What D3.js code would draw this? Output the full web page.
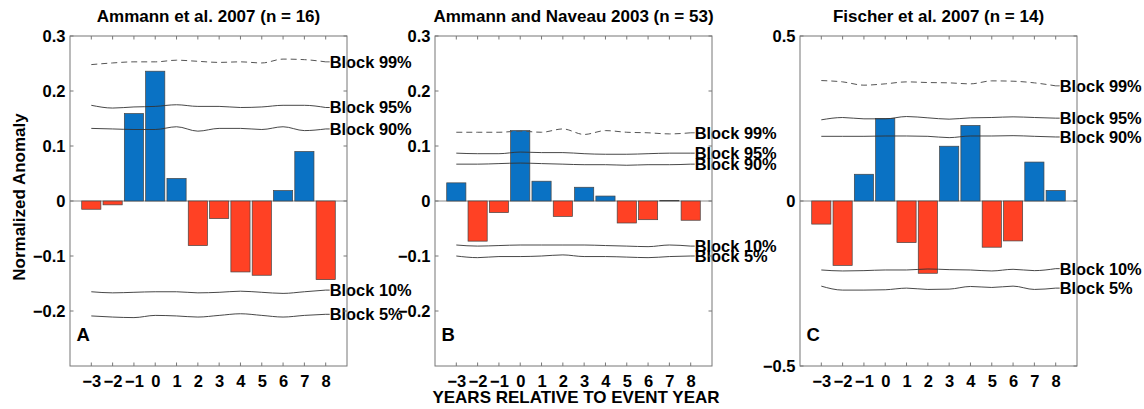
<!DOCTYPE html>
<html><head><meta charset="utf-8">
<script src="https://cdn.jsdelivr.net/npm/d3@7"></script>
<style>
html,body{margin:0;padding:0;background:#fff;}
svg{display:block;font-family:"Liberation Sans",Arial,Helvetica,sans-serif;font-weight:bold;}
</style></head>
<body><svg id="c" width="1144" height="409"></svg>
<script>
const years = [-3,-2,-1,0,1,2,3,4,5,6,7,8];

const titleA = "Ammann et al. 2007 (n = 16)";
const titleB = "Ammann and Naveau 2003 (n = 53)";
const titleC = "Fischer et al. 2007 (n = 14)";

const valuesA = [-0.015,-0.007,0.159,0.236,0.041,-0.081,-0.032,-0.129,-0.135,0.019,0.090,-0.143];
const valuesB = [0.033,-0.073,-0.021,0.128,0.036,-0.028,0.025,0.009,-0.040,-0.034,0.001,-0.035];
const valuesC = [-0.070,-0.195,0.081,0.250,-0.126,-0.219,0.166,0.229,-0.140,-0.121,0.118,0.032];

const a99 = [0.248,0.251,0.253,0.253,0.256,0.254,0.252,0.253,0.251,0.258,0.257,0.253];
const a95 = [0.174,0.169,0.171,0.172,0.175,0.172,0.172,0.170,0.171,0.174,0.174,0.170];
const a90 = [0.132,0.131,0.130,0.130,0.135,0.127,0.132,0.132,0.130,0.135,0.128,0.131];
const a10 = [-0.165,-0.167,-0.166,-0.165,-0.165,-0.167,-0.166,-0.164,-0.166,-0.168,-0.165,-0.162];
const a5  = [-0.209,-0.211,-0.212,-0.208,-0.209,-0.211,-0.208,-0.205,-0.208,-0.211,-0.208,-0.206];

const b99 = [0.125,0.125,0.125,0.127,0.125,0.131,0.121,0.128,0.125,0.124,0.122,0.124];
const b95 = [0.087,0.086,0.086,0.089,0.088,0.088,0.086,0.085,0.085,0.086,0.087,0.087];
const b90 = [0.067,0.067,0.068,0.069,0.068,0.067,0.066,0.066,0.065,0.066,0.066,0.067];
const b10 = [-0.080,-0.082,-0.081,-0.080,-0.080,-0.080,-0.080,-0.081,-0.082,-0.083,-0.080,-0.082];
const b5  = [-0.100,-0.103,-0.101,-0.101,-0.100,-0.098,-0.101,-0.101,-0.102,-0.103,-0.101,-0.100];

const c99 = [0.365,0.361,0.351,0.355,0.361,0.359,0.358,0.355,0.364,0.363,0.358,0.349];
const c95 = [0.246,0.253,0.249,0.249,0.256,0.252,0.248,0.252,0.253,0.255,0.253,0.251];
const c90 = [0.196,0.196,0.196,0.197,0.197,0.196,0.192,0.197,0.197,0.198,0.196,0.194];
const c10 = [-0.209,-0.212,-0.211,-0.209,-0.209,-0.206,-0.208,-0.209,-0.212,-0.207,-0.211,-0.205];
const c5  = [-0.258,-0.270,-0.270,-0.269,-0.264,-0.268,-0.267,-0.259,-0.262,-0.258,-0.268,-0.264];

const blockNames = ["Block 99%","Block 95%","Block 90%","Block 10%","Block 5%"];

const yTicksAB = [0.3,0.2,0.1,0,-0.1,-0.2];
const yTicksC = [0.5,0,-0.5];
const letters = ["A","B","C"];

const panels = [
  {title:titleA, values:valuesA, blocks:[a99,a95,a90,a10,a5], ydom:[-0.3,0.3], yticks:yTicksAB, left:70, right:347, letter:letters[0]},
  {title:titleB, values:valuesB, blocks:[b99,b95,b90,b10,b5], ydom:[-0.3,0.3], yticks:yTicksAB, left:435, right:712, letter:letters[1]},
  {title:titleC, values:valuesC, blocks:[c99,c95,c90,c10,c5], ydom:[-0.5,0.5], yticks:yTicksC, left:800, right:1077, letter:letters[2]}
];

const plotTop = 36, plotBottom = 366;
const svg = d3.select("#c");
const fmt = v => v === 0 ? "0" : (v < 0 ? "\u2212" + Math.abs(v) : String(v));
const blue = "#0a72c4", red = "#ff4124";

panels.forEach(p => {
  const g = svg.append("g");
  const x = d3.scaleLinear().domain([-4, 9]).range([p.left, p.right]);
  const y = d3.scaleLinear().domain(p.ydom).range([plotBottom, plotTop]);
  const bw = (x(1) - x(0)) * 0.9;

  g.append("line").attr("x1", p.left).attr("x2", p.right).attr("y1", y(0)).attr("y2", y(0))
    .attr("stroke", "#8a8a8a").attr("stroke-width", 1);

  g.selectAll("rect.bar").data(p.values).join("rect")
    .attr("class", "bar")
    .attr("x", (d, i) => x(years[i]) - bw / 2)
    .attr("width", bw)
    .attr("y", d => y(Math.max(0, d)))
    .attr("height", d => Math.abs(y(d) - y(0)))
    .attr("fill", d => d >= 0 ? blue : red)
    .attr("stroke", "#444").attr("stroke-width", 0.7);

  const line = d3.line().x((d, i) => x(years[i])).y(d => y(d)).curve(d3.curveMonotoneX);
  p.blocks.forEach((arr, k) => {
    const col = k === 0 ? "#555" : "#333";
    g.append("path").attr("d", line(arr)).attr("fill", "none")
      .attr("stroke", col).attr("stroke-width", k === 0 ? 1 : 0.9)
      .attr("stroke-dasharray", k === 0 ? "6,4" : null);
    const ly = y(arr[arr.length - 1]);
    g.append("line").attr("x1", x(8)).attr("x2", x(8) + 4).attr("y1", ly).attr("y2", ly)
      .attr("stroke", col).attr("stroke-width", 0.9);
    g.append("text").attr("x", x(8) + 4).attr("y", ly).attr("dy", "0.36em")
      .attr("font-size", 16.4).attr("fill", "#000").text(blockNames[k]);
  });

  g.append("rect").attr("x", p.left).attr("y", plotTop).attr("width", p.right - p.left).attr("height", plotBottom - plotTop)
    .attr("fill", "none").attr("stroke", "#777").attr("stroke-width", 1);

  years.forEach(v => {
    g.append("line").attr("x1", x(v)).attr("x2", x(v)).attr("y1", plotBottom).attr("y2", plotBottom - 3.5).attr("stroke", "#777");
    g.append("line").attr("x1", x(v)).attr("x2", x(v)).attr("y1", plotTop).attr("y2", plotTop + 3.5).attr("stroke", "#777");
  });
  const xAxis = d3.axisBottom(x).tickValues(years).tickSize(0).tickPadding(0).tickFormat(fmt);
  const xa = g.append("g").attr("transform", `translate(0,${plotBottom})`).call(xAxis);
  xa.select(".domain").remove();
  xa.selectAll("text").attr("font-size", 16.5).attr("font-family", null).attr("fill", "#000")
    .attr("y", 21).attr("dy", 0);

  p.yticks.forEach(v => {
    g.append("line").attr("x1", p.left).attr("x2", p.left + 3.5).attr("y1", y(v)).attr("y2", y(v)).attr("stroke", "#777");
    g.append("line").attr("x1", p.right).attr("x2", p.right - 3.5).attr("y1", y(v)).attr("y2", y(v)).attr("stroke", "#777");
  });
  const yAxis = d3.axisLeft(y).tickValues(p.yticks).tickSize(0).tickPadding(4.5).tickFormat(fmt);
  const ya = g.append("g").attr("transform", `translate(${p.left},0)`).call(yAxis);
  ya.select(".domain").remove();
  ya.selectAll("text").attr("font-size", 16.5).attr("font-family", null).attr("fill", "#000");

  g.append("text").attr("x", (p.left + p.right) / 2).attr("y", 22).attr("text-anchor", "middle")
    .attr("font-size", 17).attr("fill", "#000").text(p.title);

  g.append("text").attr("x", p.left + 6.5).attr("y", 341).attr("font-size", 18.5).attr("fill", "#000").text(p.letter);
});

svg.append("text").attr("transform", "translate(25,197) rotate(-90)").attr("text-anchor", "middle")
  .attr("font-size", 17).attr("fill", "#000").text("Normalized Anomaly");

svg.append("text").attr("x", 576).attr("y", 403).attr("text-anchor", "middle")
  .attr("font-size", 17).attr("fill", "#000").text("YEARS RELATIVE TO EVENT YEAR");
</script></body></html>
